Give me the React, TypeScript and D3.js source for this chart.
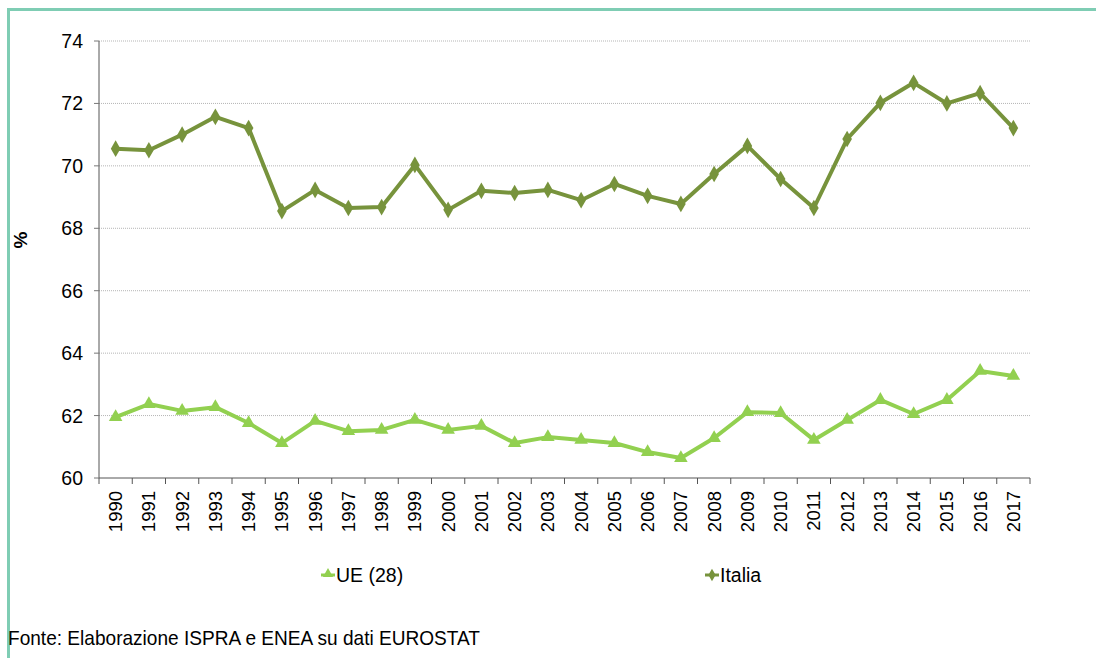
import React from "react";
import * as d3 from "d3";

const years = ["1990","1991","1992","1993","1994","1995","1996","1997","1998","1999","2000","2001","2002","2003","2004","2005","2006","2007","2008","2009","2010","2011","2012","2013","2014","2015","2016","2017"];
const italia = [70.55,70.5,71.0,71.57,71.21,68.55,69.23,68.65,68.68,70.03,68.59,69.2,69.13,69.23,68.9,69.42,69.04,68.78,69.74,70.64,69.58,68.65,70.86,72.02,72.66,72.0,72.33,71.21];
const ue = [61.95,62.37,62.15,62.27,61.76,61.12,61.83,61.5,61.54,61.86,61.54,61.67,61.12,61.31,61.22,61.12,60.83,60.64,61.28,62.11,62.08,61.22,61.86,62.5,62.05,62.5,63.43,63.27];
const yTicks = [60,62,64,66,68,70,72,74];
const seriesNames = ["UE (28)", "Italia"];
const source = "Fonte: Elaborazione ISPRA e ENEA su dati EUROSTAT";

const W = 1096, H = 658;
const L = 99, R = 1030, T = 41, B = 478;
const C_IT = "#77933c", C_UE = "#92d050";
const FONT = "'Liberation Sans', Arial, sans-serif";

export default function App() {
  const x = d3.scaleBand<string>().domain(years).range([L, R]);
  const y = d3.scaleLinear().domain([60, 74]).range([B, T]);
  const cx = (yr: string) => (x(yr) as number) + x.bandwidth() / 2;
  const line = d3.line<number>().x((_, i) => cx(years[i])).y(v => y(v));
  const diamond = d3.symbol().type(d3.symbolDiamond).size(80)();
  const tri = d3.symbol().type(d3.symbolTriangle).size(80)();

  return (
    <svg width={W} height={H} style={{ position: "absolute", left: 0, top: 0, background: "#fff" }} fontFamily={FONT}>
      <rect x={0} y={0} width={W} height={H} fill="#fff" />
      {/* frame */}
      <line x1={8} x2={W} y1={9.5} y2={9.5} stroke="#7fcdb4" strokeWidth={3} />
      <line x1={8.5} x2={8.5} y1={8} y2={H} stroke="#7fcdb4" strokeWidth={3} />
      {/* gridlines */}
      {yTicks.slice(1).map(t => (
        <line key={t} x1={L} x2={R} y1={y(t)} y2={y(t)} stroke="#b5b5b5" strokeWidth={1} strokeDasharray="1,1" />
      ))}
      {/* y axis */}
      <line x1={L} x2={L} y1={T} y2={B} stroke="#555" strokeWidth={1} />
      {yTicks.map(t => (
        <g key={t}>
          <line x1={L - 5} x2={L} y1={y(t)} y2={y(t)} stroke="#777" />
          <text x={83} y={y(t)} dy="0.36em" textAnchor="end" fontSize={19.5} fill="#000">{t}</text>
        </g>
      ))}
      <text transform={`translate(27,240) rotate(-90)`} textAnchor="middle" fontSize={19} fontWeight="bold">%</text>
      {/* x axis */}
      <line x1={L} x2={R} y1={B} y2={B} stroke="#555" />
      {years.map((yr) => (
        <line key={yr} x1={x(yr) as number} x2={x(yr) as number} y1={B} y2={B + 6} stroke="#555" />
      ))}
      <line x1={R} x2={R} y1={B} y2={B + 6} stroke="#555" />
      {years.map(yr => (
        <text key={yr} transform={`translate(${cx(yr) + 6.5},${B + 13}) rotate(-90)`} textAnchor="end" fontSize={18.5} fill="#000">{yr}</text>
      ))}
      {/* lines */}
      <path d={line(ue) as string} fill="none" stroke={C_UE} strokeWidth={4} strokeLinejoin="round" />
      {ue.map((v, i) => (
        <path key={i} d={tri as string} transform={`translate(${cx(years[i])},${y(v)})`} fill={C_UE} />
      ))}
      <path d={line(italia) as string} fill="none" stroke={C_IT} strokeWidth={4} strokeLinejoin="round" />
      {italia.map((v, i) => (
        <path key={i} d={diamond as string} transform={`translate(${cx(years[i])},${y(v)})`} fill={C_IT} />
      ))}
      {/* legend */}
      <line x1={321} x2={335} y1={575} y2={575} stroke={C_UE} strokeWidth={3} />
      <path d={d3.symbol().type(d3.symbolTriangle).size(45)() as string} transform="translate(328,574)" fill={C_UE} />
      <text x={336} y={575} dy="0.36em" fontSize={19.5}>{seriesNames[0]}</text>
      <line x1={705} x2={719} y1={575} y2={575} stroke={C_IT} strokeWidth={3} />
      <path d={d3.symbol().type(d3.symbolDiamond).size(45)() as string} transform="translate(712,575)" fill={C_IT} />
      <text x={720} y={575} dy="0.36em" fontSize={19.5}>{seriesNames[1]}</text>
      {/* source */}
      <text x={8} y={645} fontSize={21} textLength={472} lengthAdjust="spacingAndGlyphs">{source}</text>
    </svg>
  );
}
